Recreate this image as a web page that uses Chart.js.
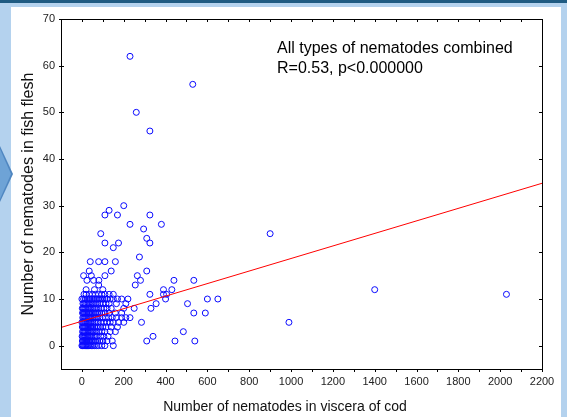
<!DOCTYPE html>
<html>
<head>
<meta charset="utf-8">
<script src="https://cdn.jsdelivr.net/npm/chart.js@4.4.1/dist/chart.umd.min.js"></script>
<style>
  html,body{margin:0;padding:0;width:567px;height:417px;overflow:hidden;background:#b4d2ee;}
  #topbar{position:absolute;left:0;top:0;width:567px;height:3px;background:#1f5b82;}
  #panel{position:absolute;left:11px;top:7px;width:550px;height:410px;background:#ffffff;}
  #chev{position:absolute;left:0;top:146px;width:13px;height:56px;background:#4f86c0;clip-path:polygon(0 0,100% 50%,0 100%);}
  #chev2{position:absolute;left:0;top:149px;width:11px;height:50px;background:#6ea3d6;clip-path:polygon(0 0,100% 50%,0 100%);}
  canvas{position:absolute;left:0;top:0;}
</style>
</head>
<body>
<div id="topbar"></div>
<div id="panel"></div>
<div id="chev"></div>
<div id="chev2"></div>
<canvas id="c" width="567" height="417"></canvas>
<script>
// Number of nematodes in viscera of cod (x) and in fish flesh (y)
const visceraCounts = [
  // y=0
  0,3,6,10,14,18,22,27,32,38,45,52,60,70,80,95,110,150,
  // y=1
  2,5,9,13,17,21,26,31,37,44,50,58,66,75,85,100,120,145,310,445,540,
  // y=2
  1,4,8,12,16,20,25,30,36,42,48,55,63,72,90,105,125,340,
  // y=3
  3,7,11,15,19,24,29,35,41,47,54,62,70,80,95,110,135,160,485,
  // y=4
  2,6,10,14,18,23,28,34,40,46,53,61,69,78,88,100,115,140,170,
  // y=5
  0,5,9,13,17,22,27,33,39,45,52,60,68,77,90,105,120,135,150,175,200,285,990,
  // y=6
  4,8,12,16,21,26,32,38,44,51,59,67,76,86,98,112,128,145,165,190,210,230,
  // y=7
  3,7,11,15,20,25,31,37,43,50,58,66,75,85,95,110,130,160,190,535,590,
  // y=8
  2,6,10,15,20,26,32,38,45,53,61,70,80,92,105,120,140,200,250,330,
  // y=9
  5,10,16,22,28,35,42,50,58,66,75,85,100,115,130,165,210,355,505,
  // y=10
  0,8,16,24,32,40,48,56,64,72,80,90,100,110,120,135,150,170,190,220,400,600,650,
  // y=11
  10,20,35,50,65,80,95,110,130,150,325,390,405,2030,
  // y=12
  20,60,100,390,430,1400,
  // y=13
  80,255,
  // y=14
  24,56,81,280,440,535,
  // y=15
  8,45,110,265,
  // y=16
  35,140,310,
  // y=18
  40,80,110,160,
  // y=19..30
  275,150,110,175,325,310,90,900,295,230,380,110,170,325,130,200,
  // large
  325,260,530,230
];
const fleshCounts = [
  0,0,0,0,0,0,0,0,0,0,0,0,0,0,0,0,0,0,
  1,1,1,1,1,1,1,1,1,1,1,1,1,1,1,1,1,1,1,1,1,
  2,2,2,2,2,2,2,2,2,2,2,2,2,2,2,2,2,2,
  3,3,3,3,3,3,3,3,3,3,3,3,3,3,3,3,3,3,3,
  4,4,4,4,4,4,4,4,4,4,4,4,4,4,4,4,4,4,4,
  5,5,5,5,5,5,5,5,5,5,5,5,5,5,5,5,5,5,5,5,5,5,5,
  6,6,6,6,6,6,6,6,6,6,6,6,6,6,6,6,6,6,6,6,6,6,
  7,7,7,7,7,7,7,7,7,7,7,7,7,7,7,7,7,7,7,7,7,
  8,8,8,8,8,8,8,8,8,8,8,8,8,8,8,8,8,8,8,8,
  9,9,9,9,9,9,9,9,9,9,9,9,9,9,9,9,9,9,9,
  10,10,10,10,10,10,10,10,10,10,10,10,10,10,10,10,10,10,10,10,10,10,10,
  11,11,11,11,11,11,11,11,11,11,11,11,11,11,
  12,12,12,12,12,12,
  13,13,
  14,14,14,14,14,14,
  15,15,15,15,
  16,16,16,
  18,18,18,18,
  19,21,22,22,22,23,24,24,25,26,26,28,28,28,29,30,
  46,50,56,62
];
// Regression line end points
const fitX = [-100, 2200];
const fitY = [3.9, 34.8];
// Axis tick labels
const xTicks = [0,200,400,600,800,1000,1200,1400,1600,1800,2000,2200];
const xMinorTicks = [100,300,500,700,900,1100,1300,1500,1700,1900,2100];
const yTicks = [0,10,20,30,40,50,60,70];
const annotationLines = ['All types of nematodes combined','R=0.53, p<0.000000'];
const xTitle = 'Number of nematodes in viscera of cod';
const yTitle = 'Number of nematodes in fish flesh';

const points = visceraCounts.map((x,i)=>({x:x, y:fleshCounts[i]}));
const fitPoints = fitX.map((x,i)=>({x:x, y:fitY[i]}));
const FONT = "'Liberation Sans', Arial, sans-serif";

const framePlugin = {
  id:'frame',
  afterDraw(chart){
    const {ctx, chartArea:a, scales} = chart;
    ctx.save();
    ctx.strokeStyle = '#000';
    ctx.lineWidth = 1;
    ctx.strokeRect(Math.round(a.left)+0.5, Math.round(a.top)+0.5, Math.round(a.right-a.left), Math.round(a.bottom-a.top));
    ctx.beginPath();
    const tx = (v,len)=>{
      const p = Math.round(scales.x.getPixelForValue(v))+0.5;
      ctx.moveTo(p, a.bottom); ctx.lineTo(p, a.bottom+len);
      ctx.moveTo(p, a.top); ctx.lineTo(p, a.top+len);
    };
    xTicks.forEach(v=>tx(v,3));
    xMinorTicks.forEach(v=>tx(v,3));
    yTicks.forEach(v=>{
      const p = Math.round(scales.y.getPixelForValue(v))+0.5;
      ctx.moveTo(a.left-2, p); ctx.lineTo(a.left+3, p);
      ctx.moveTo(a.right, p); ctx.lineTo(a.right-3, p);
    });
    ctx.stroke();
    ctx.fillStyle = '#000';
    ctx.font = "16px " + FONT;
    ctx.textBaseline = 'middle';
    ctx.textAlign = 'left';
    ctx.fillText(annotationLines[0], 277, 49);
    ctx.fillText(annotationLines[1], 277, 69);
    // axis titles
    ctx.fillStyle = '#111';
    ctx.font = "14px " + FONT;
    ctx.textAlign = 'center';
    ctx.fillText(xTitle, 285, 407);
    ctx.save();
    ctx.translate(29, 194);
    ctx.rotate(-Math.PI/2);
    ctx.font = "16px " + FONT;
    ctx.fillText(yTitle, 0, 0);
    ctx.restore();
    ctx.restore();
  }
};

new Chart(document.getElementById('c'), {
  type:'scatter',
  data:{datasets:[
    {type:'line', data:fitPoints, borderColor:'#ff0000', borderWidth:1, pointRadius:0, fill:false, order:0},
    {data:points, pointRadius:3, pointHoverRadius:3, borderColor:'#0a0aff', backgroundColor:'rgba(0,0,0,0)', borderWidth:1, order:1}
  ]},
  options:{
    responsive:false, animation:false, devicePixelRatio:1,
    layout:{padding:{left:12, right:25, top:19, bottom:0}},
    plugins:{legend:{display:false}, tooltip:{enabled:false}},
    scales:{
      x:{type:'linear', min:-100, max:2200,
        afterBuildTicks(s){ s.ticks = xTicks.map(v=>({value:v})); },
        afterFit(s){ s.height = 48; },
        grid:{display:false, drawTicks:false}, border:{display:false},
        ticks:{font:{family:FONT, size:11}, color:'#222', padding:6, maxRotation:0, autoSkip:false,
          callback:(v)=>String(v)},
        title:{display:false}
      },
      y:{type:'linear', min:-5, max:70,
        afterBuildTicks(s){ s.ticks = yTicks.map(v=>({value:v})); },
        afterFit(s){ s.width = 49; },
        grid:{display:false, drawTicks:false}, border:{display:false},
        ticks:{font:{family:FONT, size:11}, color:'#222', padding:6, autoSkip:false,
          callback:(v)=>String(v)},
        title:{display:false}
      }
    }
  },
  plugins:[framePlugin]
});
</script>
</body>
</html>
